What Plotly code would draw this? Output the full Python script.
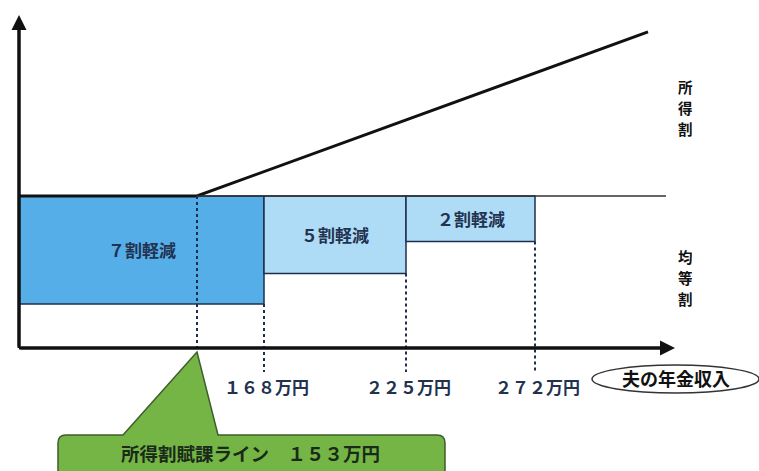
import plotly.graph_objects as go

# ---- data (schematic diagram) ----
income_labels = ["１５３万円", "１６８万円", "２２５万円", "２７２万円"]
income_pos = [178, 245, 387, 516]          # schematic x positions of the thresholds
reduction_labels = ["７割軽減", "５割軽減", "２割軽減"]
reduction_depth = [7.1, 5.1, 3.0]          # depth of each reduction band below the 均等割 level
kintou_level = 10                          # top of 均等割
shotoku_end_x = 629
shotoku_end_y = 20.8                       # end of 所得割 line
axis_x_end = 656
axis_y_end = 21.9
baseline_end = 647
tick_drop = -1.58
side_label_top = ["所", "得", "割"]
side_label_bottom = ["均", "等", "割"]

FONT = "Noto Sans CJK JP"
NAVY = "#1E2F4D"
DARK_BLUE = "#55AEE8"
LIGHT_BLUE = "#AEDCF6"
PX = 15.2  # pixels per y unit

fig = go.Figure()
shapes = []
annotations = []

# reduction bands
starts = [0, income_pos[1], income_pos[2]]
ends = [income_pos[1], income_pos[2], income_pos[3]]
fills = [DARK_BLUE, LIGHT_BLUE, LIGHT_BLUE]
for lab, x0, x1, d, fc in zip(reduction_labels, starts, ends, reduction_depth, fills):
    y0 = kintou_level - d
    shapes.append(dict(type="rect", xref="x", yref="y", x0=x0, x1=x1, y0=y0, y1=kintou_level,
                       fillcolor=fc, line=dict(color=NAVY, width=1.5), layer="below"))
    annotations.append(dict(x=(x0 + x1) / 2, y=(y0 + kintou_level) / 2, text=f"<b>{lab}</b>",
                            showarrow=False, font=dict(family=FONT, size=17, color="#22324F")))

# dotted threshold lines
shapes.append(dict(type="line", xref="x", yref="y", x0=income_pos[0], x1=income_pos[0],
                   y0=kintou_level, y1=0, line=dict(color=NAVY, width=2, dash="dot")))
for xi, d in zip(income_pos[1:], reduction_depth):
    shapes.append(dict(type="line", xref="x", yref="y", x0=xi, x1=xi,
                       y0=kintou_level - d, y1=tick_drop, line=dict(color=NAVY, width=2, dash="dot")))

# thin 均等割 level line
shapes.append(dict(type="line", xref="x", yref="y", x0=income_pos[0], x1=baseline_end,
                   y0=kintou_level, y1=kintou_level, line=dict(color="#333333", width=1.5)))

# 所得割 line (flat then sloped)
fig.add_trace(go.Scatter(x=[0, income_pos[0], shotoku_end_x],
                         y=[kintou_level, kintou_level, shotoku_end_y],
                         mode="lines", line=dict(color="#111111", width=3), hoverinfo="skip"))

# axes with arrows
annotations.append(dict(x=axis_x_end, y=0, ax=0, ay=0, xref="x", yref="y", axref="x", ayref="y",
                        text="", showarrow=True, arrowhead=2, arrowsize=1, arrowwidth=3,
                        arrowcolor="#111111", standoff=0))
annotations.append(dict(x=0, y=axis_y_end, ax=0, ay=0, xref="x", yref="y", axref="x", ayref="y",
                        text="", showarrow=True, arrowhead=2, arrowsize=1, arrowwidth=3,
                        arrowcolor="#111111", standoff=0))

# tick labels (centred under the dotted lines)
for lab, xi in zip(income_labels[1:], income_pos[1:]):
    annotations.append(dict(x=xi + 2, y=-2.55, text=f"<b>{lab}</b>", showarrow=False, xanchor="center",
                            font=dict(family=FONT, size=17, color="#22324F")))

# 夫の年金収入 ellipse
shapes.append(dict(type="circle", xref="x", yref="y", x0=573, x1=740, y0=-2.96, y1=-1.12,
                   line=dict(color="#333333", width=1.5), fillcolor="white"))
annotations.append(dict(x=657, y=-1.97, text="<b>夫の年金収入</b>", showarrow=False,
                        font=dict(family=FONT, size=18, color="#111111")))

# side labels (vertical), one character per annotation
for i, ch in enumerate(side_label_top):
    annotations.append(dict(x=666, y=(348 - (86 + 21 * i)) / PX, text=f"<b>{ch}</b>", showarrow=False,
                            height=18, borderpad=0, valign="middle",
                            font=dict(family=FONT, size=14.5, color="#111111")))
for i, ch in enumerate(side_label_bottom):
    annotations.append(dict(x=666, y=(348 - (256 + 21 * i)) / PX, text=f"<b>{ch}</b>", showarrow=False,
                            height=18, borderpad=0, valign="middle",
                            font=dict(family=FONT, size=14.5, color="#111111")))

# green callout
top = -5.72
rx, ry = 8, 0.53
path = (f"M 39,-9.5 L 39,{top - ry} Q 39,{top} {39 + rx},{top} "
        f"L 104,{top} L {income_pos[0]},-0.26 L 199,{top} "
        f"L {426 - rx},{top} Q 426,{top} 426,{top - ry} L 426,-9.5 Z")
shapes.append(dict(type="path", xref="x", yref="y", path=path,
                   fillcolor="#74B545", line=dict(color="#3D5E2B", width=1.5)))
annotations.append(dict(x=231, y=-6.9, text=f"<b>所得割賦課ライン　{income_labels[0]}</b>", showarrow=False,
                        font=dict(family=FONT, size=18.5, color="#1A2A1A")))

fig.update_layout(
    width=759, height=471,
    margin=dict(l=0, r=0, t=0, b=0),
    paper_bgcolor="white", plot_bgcolor="white",
    showlegend=False,
    shapes=shapes, annotations=annotations,
    xaxis=dict(range=[-19, 740], visible=False, fixedrange=True),
    yaxis=dict(range=[-123 / PX, 348 / PX], visible=False, fixedrange=True),
)

# draw the x and y axis lines
fig.add_shape(type="line", xref="x", yref="y", x0=0, x1=axis_x_end - 5, y0=0, y1=0,
              line=dict(color="#111111", width=3))
fig.add_shape(type="line", xref="x", yref="y", x0=0, x1=0, y0=0, y1=axis_y_end - 0.3,
              line=dict(color="#111111", width=3))

fig.write_html("out.html")
